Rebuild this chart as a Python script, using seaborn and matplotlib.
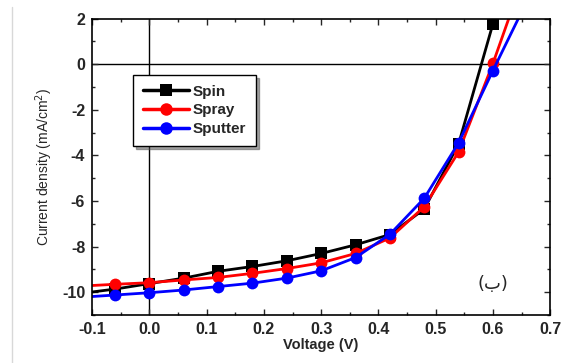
import matplotlib
matplotlib.use("Agg")
import matplotlib.pyplot as plt
from matplotlib.lines import Line2D
from matplotlib.ticker import MultipleLocator
import seaborn as sns
import pandas as pd

voltage = [-0.12, -0.06, 0.0, 0.06, 0.12, 0.18, 0.24, 0.30, 0.36, 0.42, 0.48, 0.54, 0.60, 0.66]
spin = [-10.05, -9.86, -9.62, -9.38, -9.08, -8.87, -8.62, -8.30, -7.92, -7.47, -6.35, -3.50, 1.77, 8.0]
spray = [-9.73, -9.65, -9.58, -9.46, -9.35, -9.17, -8.96, -8.71, -8.30, -7.62, -6.25, -3.85, 0.03, 4.3]
sputter = [-10.22, -10.12, -10.02, -9.90, -9.75, -9.60, -9.38, -9.06, -8.48, -7.46, -5.88, -3.45, -0.28, 2.8]
series_names = ["Spin", "Spray", "Sputter"]
colors = ["#000000", "#ff0000", "#0000ff"]
markers = ["s", "o", "o"]

sns.set_style("ticks")
plt.rcParams['font.family'] = ['Liberation Sans', 'DejaVu Sans']

frames = []
for name, vals in zip(series_names, [spin, spray, sputter]):
    frames.append(pd.DataFrame({"Voltage": voltage, "J": vals, "Sample": name}))
df = pd.concat(frames, ignore_index=True)

fig = plt.figure(figsize=(5.62, 3.63), dpi=100)
ax = fig.add_axes([0.164, 0.132, 0.815, 0.817])

sns.lineplot(data=df, x="Voltage", y="J", hue="Sample", style="Sample",
             hue_order=series_names, style_order=series_names,
             palette=dict(zip(series_names, colors)),
             markers=dict(zip(series_names, markers)), dashes=False,
             linewidth=2, markersize=8.5, markeredgewidth=0, ax=ax, legend=False,
             sort=False, estimator=None)

ax.axhline(0, color="black", lw=1, zorder=0)
ax.axvline(0, color="black", lw=1, zorder=0)

ax.set_xlim(-0.1, 0.7)
ax.set_ylim(-11, 2)
ax.xaxis.set_major_locator(MultipleLocator(0.1))
ax.xaxis.set_minor_locator(MultipleLocator(0.05))
ax.yaxis.set_major_locator(MultipleLocator(2))
ax.yaxis.set_minor_locator(MultipleLocator(1))
ax.tick_params(which="both", direction="in", top=True, right=True, width=1)
ax.tick_params(which="major", length=4, pad=5)
ax.tick_params(which="minor", length=2.5)
ax.set_xticks([-0.1, 0.0, 0.1, 0.2, 0.3, 0.4, 0.5, 0.6, 0.7])
ax.set_xticklabels(["-0.1", "0.0", "0.1", "0.2", "0.3", "0.4", "0.5", "0.6", "0.7"],
                   fontweight="bold", fontsize=11.5)
ax.set_yticks([2, 0, -2, -4, -6, -8, -10])
ax.set_yticklabels(["2", "0", "-2", "-4", "-6", "-8", "-10"], fontweight="bold", fontsize=11.5)
for s in ax.spines.values():
    s.set_linewidth(1.2)
    s.set_color("black")

ax.set_xlabel("Voltage (V)", fontsize=10.5, fontweight="bold", labelpad=1)
ax.set_ylabel("Current density (mA/cm$^2$)", fontsize=10, labelpad=5)

handles = [Line2D([], [], color=c, marker=m, lw=2.5, markersize=9, markeredgewidth=0)
           for c, m in zip(colors, markers)]
leg = ax.legend(handles, series_names, loc="upper left", bbox_to_anchor=(0.09, 0.81),
                frameon=True, fancybox=False, shadow=True, edgecolor="black",
                prop={"weight": "bold", "size": 11}, handlelength=3.0,
                handletextpad=0.25, borderpad=0.65, labelspacing=0.3, borderaxespad=0)
leg.get_frame().set_linewidth(1)

ax.text(0.6, -9.62, "(ب)", fontsize=13, ha="center", va="center",
        family=["DejaVu Sans"])

fig.add_artist(Line2D([12 / 562, 12 / 562], [0, 0.98], transform=fig.transFigure,
                      color="#d8d8d8", lw=1))

fig.savefig("out.png", dpi=100)
